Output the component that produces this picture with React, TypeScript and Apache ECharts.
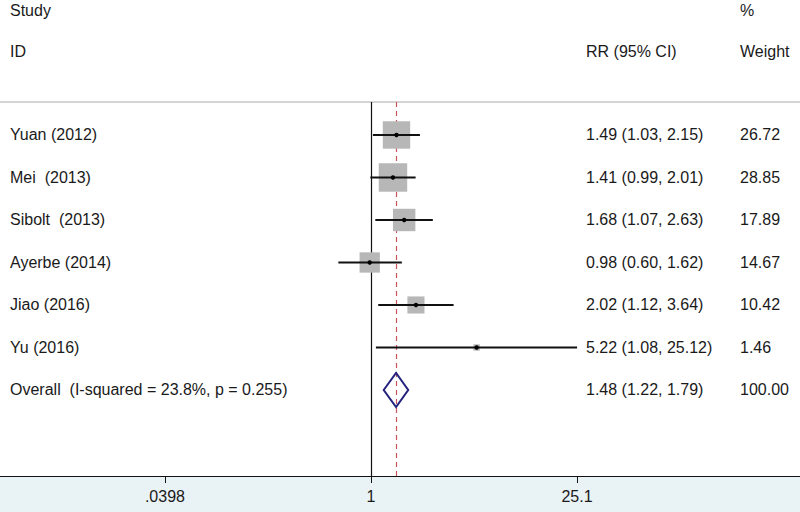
import { useEffect, useRef } from 'react';
import * as echarts from 'echarts';

// ---- data ----
const studyNames = ['Yuan (2012)', 'Mei  (2013)', 'Sibolt  (2013)', 'Ayerbe (2014)', 'Jiao (2016)', 'Yu (2016)'];
const rrValues = [1.49, 1.41, 1.68, 0.98, 2.02, 5.22];
const ciLower = [1.03, 0.99, 1.07, 0.6, 1.12, 1.08];
const ciUpper = [2.15, 2.01, 2.63, 1.62, 3.64, 25.12];
const weights = [26.72, 28.85, 17.89, 14.67, 10.42, 1.46];

const overallLabel = 'Overall  (I-squared = 23.8%, p = 0.255)';
const overallRR = 1.48;
const overallLower = 1.22;
const overallUpper = 1.79;
const overallWeight = 100.0;

const tickValues = [0.0398, 1, 25.1];
const tickLabels = ['.0398', '1', '25.1'];

const FONT = '"Liberation Sans", Arial, Helvetica, sans-serif';
const TEXT_COLOR = '#1a1a1a';

export default function App() {
  const ref = useRef<HTMLDivElement>(null);

  useEffect(() => {
    if (!ref.current) return;
    const chart = echarts.init(ref.current, null, { renderer: 'svg' });

    const names = [...studyNames, overallLabel];
    const data = [
      ...studyNames.map((_, i) => [rrValues[i], ciLower[i], ciUpper[i], i, weights[i], 0]),
      [overallRR, overallLower, overallUpper, studyNames.length, overallWeight, 1],
    ];

    const txt = (text: string, x: number, y: number) => ({
      type: 'text',
      x,
      y,
      style: {
        text,
        fill: TEXT_COLOR,
        fontSize: 16,
        fontFamily: FONT,
        align: 'left',
        verticalAlign: 'middle',
      },
    });

    const option: any = {
      animation: false,
      backgroundColor: '#ffffff',
      grid: { left: 0, right: 0, top: 102, bottom: 36, containLabel: false },
      xAxis: {
        type: 'log',
        min: 0.003017,
        max: 821.3,
        splitLine: { show: false },
        axisLine: { show: true, onZero: false, lineStyle: { color: '#111', width: 1 } },
        axisTick: {
          show: true,
          length: 7,
          inside: false,
          customValues: tickValues,
          lineStyle: { color: '#111', width: 1 },
        },
        axisLabel: {
          show: true,
          customValues: tickValues,
          margin: 12,
          fontSize: 16,
          fontFamily: FONT,
          color: TEXT_COLOR,
          formatter: (v: number) => {
            const k = tickValues.findIndex((t) => Math.abs(Math.log10(t) - Math.log10(v)) < 1e-4);
            return k >= 0 ? tickLabels[k] : '';
          },
        },
        minorTick: { show: false },
      },
      yAxis: {
        type: 'value',
        inverse: true,
        min: -0.776,
        max: 8.024,
        show: false,
        splitLine: { show: false },
      },
      graphic: [
        {
          type: 'rect',
          z: -1,
          shape: { x: 0, y: 476, width: 800, height: 36 },
          style: { fill: '#e9f2f5' },
        },
        {
          type: 'line',
          shape: { x1: 0, y1: 102, x2: 800, y2: 102 },
          style: { stroke: '#d4d4d4', lineWidth: 2 },
        },
        { ...txt('Study', 10, 10) },
        { ...txt('ID', 10, 51) },
        { ...txt('%', 740, 10) },
        { ...txt('RR (95% CI)', 586, 51) },
        { ...txt('Weight', 740, 51) },
      ],
      series: [
        {
          type: 'custom',
          coordinateSystem: 'cartesian2d',
          z: 2,
          encode: { x: [0, 1, 2], y: 3 },
          data,
          renderItem: (params: any, api: any) => {
            const i = params.dataIndex;
            const row = api.value(3);
            const rr = api.value(0);
            const lo = api.value(1);
            const hi = api.value(2);
            const w = api.value(4);
            const isOverall = api.value(5) === 1;
            const [xc, y] = api.coord([rr, row]);
            const xl = api.coord([lo, row])[0];
            const xh = api.coord([hi, row])[0];
            const children: any[] = [];
            if (isOverall) {
              children.push({
                type: 'polygon',
                shape: { points: [[xl, y], [xc, y - 17], [xh, y], [xc, y + 17]] },
                style: { fill: 'none', stroke: '#25237d', lineWidth: 2 },
              });
            } else {
              const s = 5.3 * Math.sqrt(w);
              children.push({
                type: 'rect',
                shape: { x: xc - s / 2, y: y - s / 2, width: s, height: s },
                style: { fill: '#b7b7b7' },
              });
              children.push({
                type: 'line',
                shape: { x1: xl, y1: y, x2: xh, y2: y },
                style: { stroke: '#111', lineWidth: 2 },
              });
              children.push({
                type: 'circle',
                shape: { cx: xc, cy: y, r: 2.2 },
                style: { fill: '#000' },
              });
            }
            children.push(txt(names[i], 10, y));
            children.push(txt(`${rr.toFixed(2)} (${lo.toFixed(2)}, ${hi.toFixed(2)})`, 586, y));
            children.push(txt(w.toFixed(2), 740, y));
            return { type: 'group', children };
          },
          markLine: {
            silent: true,
            symbol: 'none',
            z: 1,
            label: { show: false },
            data: [
              { xAxis: 1, lineStyle: { color: '#111', type: 'solid', width: 1.2 } },
              { xAxis: overallRR, lineStyle: { color: '#c9545c', type: [5, 4], width: 1.2 } },
            ],
          },
        },
      ],
    };

    chart.setOption(option);
    return () => chart.dispose();
  }, []);

  return (
    <div
      ref={ref}
      style={{ position: 'absolute', left: 0, top: 0, width: 800, height: 512, background: '#fff' }}
    />
  );
}
